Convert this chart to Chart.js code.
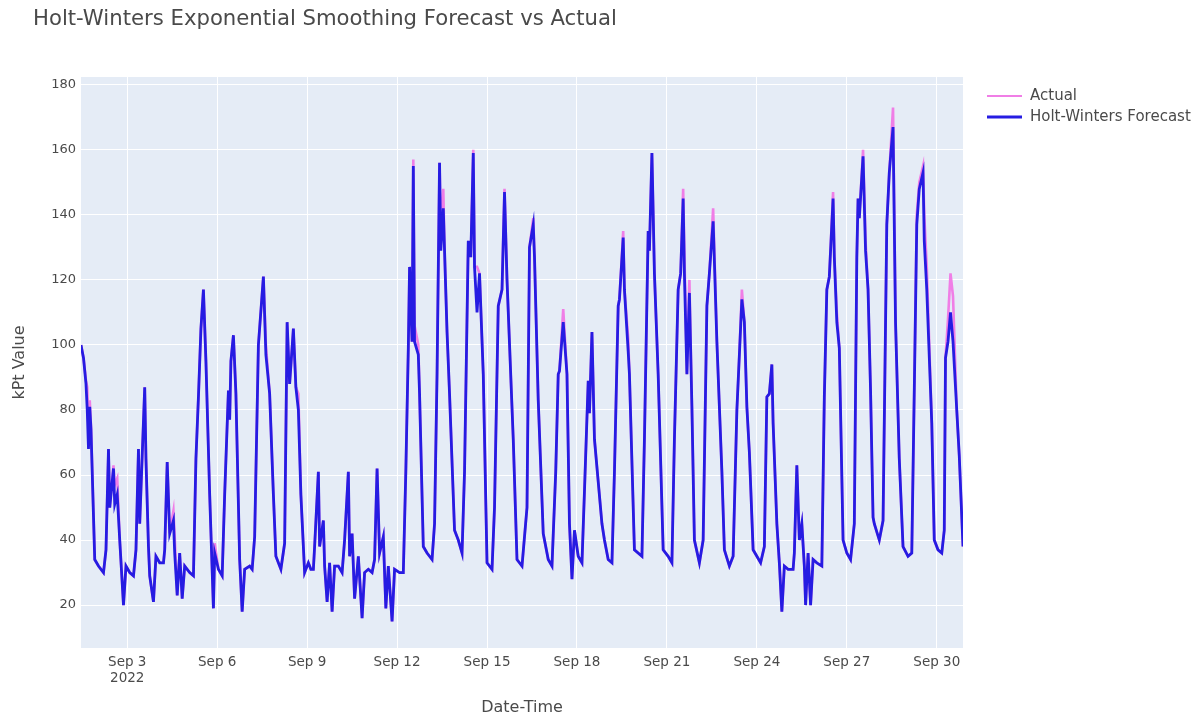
<!DOCTYPE html>
<html>
<head>
<meta charset="utf-8">
<script src="https://cdn.jsdelivr.net/npm/chart.js@4.4.1/dist/chart.umd.min.js"></script>
<style>
  html, body { margin: 0; padding: 0; background: #ffffff; }
  canvas { display: block; }
</style>
</head>
<body>
<canvas id="chart" width="1194" height="717"></canvas>
<script>
// Hourly readings, x = hours since 2022-09-01 00:00
const hours = [
  11,13,15,16,17,18,19,22,25,29,31,33,34,37,38,40,42,45,47,50,
  53,55,57,58,62,63,65,66,69,71,74,77,78,80,82,85,86,88,90,92,
  94,98,101,103,105,107,109,111,114,117,118,121,124,126,129,130,131,133,135,138,
  140,142,146,148,150,153,157,159,162,165,167,171,174,176,178,181,183,185,187,190,
  193,195,197,198,201,202,205,206,208,210,212,214,217,220,222,225,226,228,230,233,
  236,238,241,244,246,248,250,253,255,257,260,262,266,269,271,273,274,276,277,278,
  281,282,285,288,292,294,296,298,299,301,302,304,306,310,313,316,318,321,323,325,
  326,328,330,333,336,340,342,345,348,350,352,357,360,364,368,370,373,374,377,381,
  385,388,391,393,394,397,400,402,404,406,409,412,414,417,418,420,422,428,430,433,
  436,438,441,442,445,446,449,450,454,460,462,465,466,468,470,473,477,481,484,486,
  489,491,493,494,496,498,500,502,506,509,512,514,517,520,521,524,526,530,533,536,
  538,540,542,544,546,549,552,555,558,560,562,564,565,568,570,572,574,577,581,582,
  584,586,588,590,591,593,595,597,600,604,606,608,610,613,614,616,618,621,624,627,
  630,632,633,634,637,639,641,643,645,646,650,653,656,658,661,663,666,669,673,676,
  678,680,682,685,686,688,692,694,697,700,702,703,705,707,709,712,714,717
];

const actual = [
  100,96,89,87,74,83,75,34,32,30,37,68,50,63,57,59,40,20,32,30,
  29,37,68,45,87,65,38,29,21,35,33,33,37,64,42,49,41,23,36,22,
  32,30,29,65,84,105,117,95,54,19,39,31,29,54,86,77,95,103,85,34,
  18,31,32,31,41,100,121,100,85,54,35,31,39,107,88,105,87,85,54,30,
  33,31,31,38,61,38,46,32,21,33,18,32,32,30,40,61,35,42,22,35,
  16,30,31,30,34,62,36,41,19,32,15,31,30,30,61,99,124,101,157,106,
  100,85,38,36,34,45,91,156,135,148,129,104,85,43,40,36,61,132,127,160,
  124,124,122,91,33,31,50,112,117,148,120,71,34,32,50,130,139,127,83,42,
  34,32,61,91,92,111,91,45,28,43,35,33,55,89,79,104,71,45,40,34,
  33,61,112,114,135,117,102,91,37,35,71,135,129,159,122,91,37,35,33,71,
  117,122,148,128,91,120,81,40,33,40,112,122,142,101,91,61,37,32,35,80,
  97,117,107,81,67,37,35,33,38,84,85,94,76,45,33,18,32,31,31,36,
  63,40,45,32,20,36,20,34,33,32,84,117,121,147,127,110,99,40,36,34,
  45,127,145,139,160,132,117,86,47,45,40,46,137,153,173,107,65,38,35,36,
  86,140,150,155,140,124,76,40,37,36,43,96,108,122,115,80,66,38
];

const forecast = [
  100,96,88,80,68,81,74,34,32,30,37,68,50,62,51,54,40,20,32,30,
  29,37,68,45,87,65,38,29,21,35,33,33,37,64,42,46,36,23,36,22,
  32,30,29,65,84,105,117,95,54,19,36,31,29,54,86,77,95,103,85,34,
  18,31,32,31,41,100,121,97,85,54,35,31,39,107,88,105,87,80,54,30,
  33,31,31,38,61,38,46,32,21,33,18,32,32,30,40,61,35,42,22,35,
  16,30,31,30,34,62,36,41,19,32,15,31,30,30,61,99,124,101,155,101,
  97,85,38,36,34,45,91,156,129,142,129,104,85,43,40,36,61,132,127,159,
  124,110,122,91,33,31,50,112,117,147,120,71,34,32,50,130,137,127,83,42,
  34,32,61,91,92,107,91,45,28,43,35,33,55,89,79,104,71,45,40,34,
  33,61,112,114,133,117,98,91,37,35,71,135,129,159,122,91,37,35,33,71,
  117,122,145,122,91,116,81,40,33,40,112,122,138,101,91,61,37,32,35,80,
  97,114,107,81,67,37,35,33,38,84,85,94,76,45,33,18,32,31,31,36,
  63,40,45,32,20,36,20,34,33,32,84,117,121,145,127,107,99,40,36,34,
  45,127,145,139,158,129,117,86,47,45,40,46,137,153,167,107,65,38,35,36,
  86,137,148,153,132,117,76,40,37,36,43,96,101,110,101,80,66,38
];

// Axis ticks
const tickHours = [48, 120, 192, 264, 336, 408, 480, 552, 624, 696];
const tickLabels = ['Sep 3', 'Sep 6', 'Sep 9', 'Sep 12', 'Sep 15', 'Sep 18', 'Sep 21', 'Sep 24', 'Sep 27', 'Sep 30'];
const yearLabel = '2022';
const yTicks = [20, 40, 60, 80, 100, 120, 140, 160, 180];

const titleText = 'Holt-Winters Exponential Smoothing Forecast vs Actual';
const xTitle = 'Date-Time';
const yTitle = 'kPt Value';
const seriesNames = ['Actual', 'Holt-Winters Forecast'];

const FONT = '"DejaVu Sans", Verdana, sans-serif';
const TEXT = '#4a4a4a';
const PINK = '#f07ee6';
const BLUE = 'rgb(38, 28, 226)';

const toPoints = vals => hours.map((h, i) => ({ x: h, y: vals[i] }));

const decor = {
  id: 'decor',
  beforeDraw(chart) {
    const { ctx, chartArea: a } = chart;
    ctx.save();
    ctx.fillStyle = '#E5ECF6';
    ctx.fillRect(a.left, a.top, a.right - a.left, a.bottom - a.top);
    ctx.restore();
  },
  afterDraw(chart) {
    const { ctx, chartArea: a } = chart;
    ctx.save();
    ctx.fillStyle = TEXT;
    ctx.textBaseline = 'middle';

    // title
    ctx.font = '21.2px ' + FONT;
    ctx.textAlign = 'left';
    ctx.fillText(titleText, 33, 19);

    // x axis title
    ctx.font = '16px ' + FONT;
    ctx.textAlign = 'center';
    ctx.fillText(xTitle, (a.left + a.right) / 2, 708);

    // y axis title
    ctx.save();
    ctx.translate(20, (a.top + a.bottom) / 2);
    ctx.rotate(-Math.PI / 2);
    ctx.fillText(yTitle, 0, 0);
    ctx.restore();

    // legend
    ctx.font = '15px ' + FONT;
    ctx.textAlign = 'left';
    const rows = [
      { name: seriesNames[0], color: PINK, w: 2, y: 96 },
      { name: seriesNames[1], color: BLUE, w: 3, y: 117 }
    ];
    rows.forEach(r => {
      ctx.beginPath();
      ctx.strokeStyle = r.color;
      ctx.lineWidth = r.w;
      ctx.moveTo(987, r.y);
      ctx.lineTo(1022, r.y);
      ctx.stroke();
      ctx.fillText(r.name, 1030, r.y);
    });
    ctx.restore();
  }
};

new Chart(document.getElementById('chart'), {
  type: 'line',
  data: {
    datasets: [
      {
        label: seriesNames[1],
        data: toPoints(forecast),
        borderColor: BLUE,
        borderWidth: 2.8,
        pointRadius: 0,
        tension: 0,
        order: 0
      },
      {
        label: seriesNames[0],
        data: toPoints(actual),
        borderColor: PINK,
        borderWidth: 2.6,
        pointRadius: 0,
        tension: 0,
        order: 1
      }
    ]
  },
  options: {
    responsive: false,
    animation: false,
    devicePixelRatio: 1,
    layout: { padding: { left: 0, top: 77, right: 231, bottom: 0 } },
    plugins: {
      legend: { display: false },
      title: { display: false },
      tooltip: { enabled: false }
    },
    scales: {
      x: {
        type: 'linear',
        min: 11,
        max: 717,
        afterBuildTicks: s => { s.ticks = tickHours.map(v => ({ value: v })); },
        afterFit: s => { s.height = 69; },
        grid: { color: '#ffffff', lineWidth: 1, drawTicks: false },
        border: { display: false },
        ticks: {
          autoSkip: false,
          maxRotation: 0,
          padding: 6,
          color: TEXT,
          font: { family: FONT, size: 13.5 },
          callback: (v) => {
            const i = tickHours.indexOf(v);
            if (i < 0) return '';
            return i === 0 ? [tickLabels[i], yearLabel] : tickLabels[i];
          }
        }
      },
      y: {
        type: 'linear',
        min: 6.8,
        max: 182.4,
        afterBuildTicks: s => { s.ticks = yTicks.map(v => ({ value: v })); },
        afterFit: s => { s.width = 81; },
        grid: { color: '#ffffff', lineWidth: 1, drawTicks: false },
        border: { display: false },
        ticks: {
          padding: 5,
          color: TEXT,
          font: { family: FONT, size: 13 },
          callback: v => String(v)
        }
      }
    }
  },
  plugins: [decor]
});
</script>
</body>
</html>
